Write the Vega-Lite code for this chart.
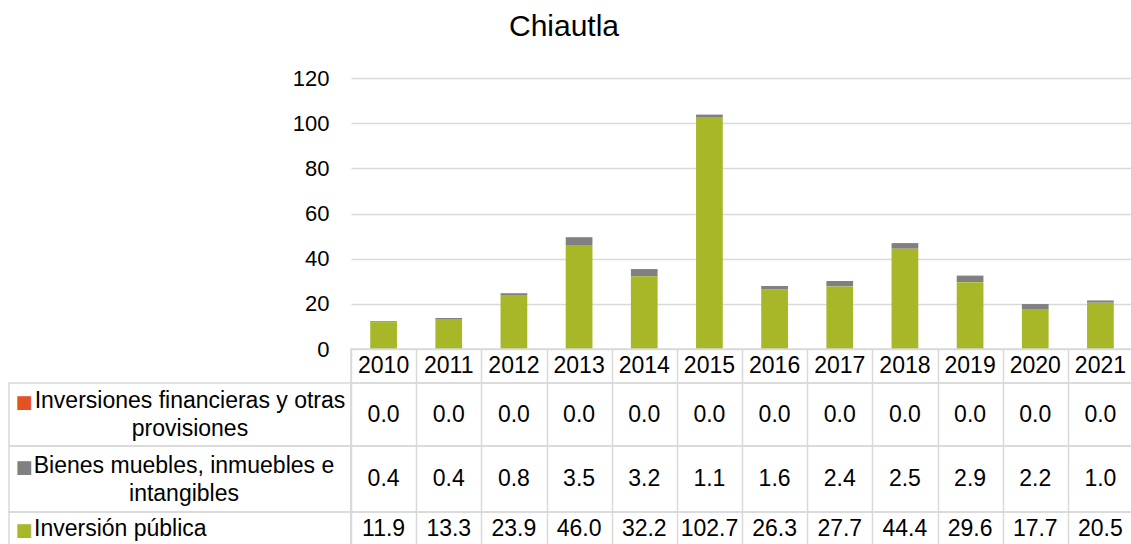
{
  "$schema": "https://vega.github.io/schema/vega-lite/v6.json",
  "padding": {"left": 8, "top": 12, "right": 0, "bottom": 0},
  "title": {"text": "Chiautla", "fontSize": 30, "font": "Liberation Sans", "fontWeight": "normal", "color": "#000000", "anchor": "middle", "offset": 25, "dx": -7},
  "config": {"view": {"stroke": null}, "font": "Liberation Sans", "text": {"font": "Liberation Sans", "fontSize": 23, "color": "#000000"}},
  "datasets": {
    "valores": [
      {"anio": "2010", "serie": "Inversiones financieras y otras provisiones", "valor": 0.0},
      {"anio": "2011", "serie": "Inversiones financieras y otras provisiones", "valor": 0.0},
      {"anio": "2012", "serie": "Inversiones financieras y otras provisiones", "valor": 0.0},
      {"anio": "2013", "serie": "Inversiones financieras y otras provisiones", "valor": 0.0},
      {"anio": "2014", "serie": "Inversiones financieras y otras provisiones", "valor": 0.0},
      {"anio": "2015", "serie": "Inversiones financieras y otras provisiones", "valor": 0.0},
      {"anio": "2016", "serie": "Inversiones financieras y otras provisiones", "valor": 0.0},
      {"anio": "2017", "serie": "Inversiones financieras y otras provisiones", "valor": 0.0},
      {"anio": "2018", "serie": "Inversiones financieras y otras provisiones", "valor": 0.0},
      {"anio": "2019", "serie": "Inversiones financieras y otras provisiones", "valor": 0.0},
      {"anio": "2020", "serie": "Inversiones financieras y otras provisiones", "valor": 0.0},
      {"anio": "2021", "serie": "Inversiones financieras y otras provisiones", "valor": 0.0},
      {"anio": "2010", "serie": "Bienes muebles, inmuebles e intangibles", "valor": 0.4},
      {"anio": "2011", "serie": "Bienes muebles, inmuebles e intangibles", "valor": 0.4},
      {"anio": "2012", "serie": "Bienes muebles, inmuebles e intangibles", "valor": 0.8},
      {"anio": "2013", "serie": "Bienes muebles, inmuebles e intangibles", "valor": 3.5},
      {"anio": "2014", "serie": "Bienes muebles, inmuebles e intangibles", "valor": 3.2},
      {"anio": "2015", "serie": "Bienes muebles, inmuebles e intangibles", "valor": 1.1},
      {"anio": "2016", "serie": "Bienes muebles, inmuebles e intangibles", "valor": 1.6},
      {"anio": "2017", "serie": "Bienes muebles, inmuebles e intangibles", "valor": 2.4},
      {"anio": "2018", "serie": "Bienes muebles, inmuebles e intangibles", "valor": 2.5},
      {"anio": "2019", "serie": "Bienes muebles, inmuebles e intangibles", "valor": 2.9},
      {"anio": "2020", "serie": "Bienes muebles, inmuebles e intangibles", "valor": 2.2},
      {"anio": "2021", "serie": "Bienes muebles, inmuebles e intangibles", "valor": 1.0},
      {"anio": "2010", "serie": "Inversión pública", "valor": 11.9},
      {"anio": "2011", "serie": "Inversión pública", "valor": 13.3},
      {"anio": "2012", "serie": "Inversión pública", "valor": 23.9},
      {"anio": "2013", "serie": "Inversión pública", "valor": 46.0},
      {"anio": "2014", "serie": "Inversión pública", "valor": 32.2},
      {"anio": "2015", "serie": "Inversión pública", "valor": 102.7},
      {"anio": "2016", "serie": "Inversión pública", "valor": 26.3},
      {"anio": "2017", "serie": "Inversión pública", "valor": 27.7},
      {"anio": "2018", "serie": "Inversión pública", "valor": 44.4},
      {"anio": "2019", "serie": "Inversión pública", "valor": 29.6},
      {"anio": "2020", "serie": "Inversión pública", "valor": 17.7},
      {"anio": "2021", "serie": "Inversión pública", "valor": 20.5}
    ],
    "leyenda": [
      {"serie": "Inversiones financieras y otras provisiones", "etiqueta": "Inversiones financieras y otras|provisiones"},
      {"serie": "Bienes muebles, inmuebles e intangibles", "etiqueta": "Bienes muebles, inmuebles e|intangibles"},
      {"serie": "Inversión pública", "etiqueta": "Inversión pública"}
    ]
  },
  "columns": 2,
  "align": "each",
  "bounds": "flush",
  "spacing": 0,
  "concat": [
    {
      "width": 342, "height": 271,
      "data": {"values": [{}]},
      "mark": {"type": "text", "text": ""},
      "encoding": {}
    },
    {
      "width": 782, "height": 271,
      "data": {"name": "valores"},
      "mark": {"type": "bar", "width": {"band": 0.41}},
      "encoding": {
        "x": {"field": "anio", "type": "ordinal", "scale": {"padding": 0}, "axis": null},
        "y": {"field": "valor", "type": "quantitative", "stack": "zero", "scale": {"domain": [0, 120], "nice": false},
              "axis": {"values": [0, 20, 40, 60, 80, 100, 120], "grid": true, "gridColor": "#d9d9d9", "gridWidth": 1.5, "domain": false, "ticks": false, "tickSize": 0, "labelPadding": 22, "labelFontSize": 22, "labelFont": "Liberation Sans", "labelColor": "#000000", "title": null}},
        "color": {"field": "serie", "type": "nominal",
                  "scale": {"domain": ["Inversiones financieras y otras provisiones", "Bienes muebles, inmuebles e intangibles", "Inversión pública"], "range": ["#e2531f", "#808080", "#a7b728"]},
                  "legend": null},
        "order": {"field": "serie", "sort": "descending"}
      }
    },
    {
      "width": 342, "height": 34,
      "data": {"values": [{}]},
      "mark": {"type": "text", "text": ""},
      "encoding": {}
    },
    {
      "width": 782, "height": 34,
      "data": {"name": "valores"},
      "transform": [{"filter": "datum.serie === 'Inversión pública'"}],
      "view": {"stroke": "#d9d9d9", "strokeWidth": 1.5},
      "mark": {"type": "text", "fontSize": 23, "font": "Liberation Sans", "color": "#000000"},
      "encoding": {
        "x": {"field": "anio", "type": "ordinal", "scale": {"padding": 0},
              "axis": {"orient": "top", "grid": true, "gridColor": "#d9d9d9", "gridWidth": 1.5, "tickBand": "extent", "labels": false, "ticks": false, "domain": false, "title": null}},
        "text": {"field": "anio"}
      }
    },
    {
      "width": 342, "height": 63,
      "data": {"name": "leyenda"},
      "transform": [{"filter": "datum.serie === 'Inversiones financieras y otras provisiones'"}],
      "view": {"stroke": "#d9d9d9", "strokeWidth": 1.5},
      "layer": [
        {"mark": {"type": "text", "fontSize": 23, "lineBreak": "|", "lineHeight": 28, "dx": 10, "dy": -14, "color": "#000000"}, "encoding": {"text": {"field": "etiqueta"}}},
        {"mark": {"type": "text", "text": "■", "font": "DejaVu Sans", "fontSize": 18, "dx": -156, "dy": -11.5},
         "encoding": {"color": {"field": "serie", "type": "nominal", "scale": {"domain": ["Inversiones financieras y otras provisiones", "Bienes muebles, inmuebles e intangibles", "Inversión pública"], "range": ["#e2531f", "#808080", "#a7b728"]}, "legend": null}}}
      ]
    },
    {
      "width": 782, "height": 63,
      "data": {"name": "valores"},
      "transform": [{"filter": "datum.serie === 'Inversiones financieras y otras provisiones'"}],
      "view": {"stroke": "#d9d9d9", "strokeWidth": 1.5},
      "mark": {"type": "text", "fontSize": 23, "font": "Liberation Sans", "color": "#000000"},
      "encoding": {
        "x": {"field": "anio", "type": "ordinal", "scale": {"padding": 0},
              "axis": {"orient": "top", "grid": true, "gridColor": "#d9d9d9", "gridWidth": 1.5, "tickBand": "extent", "labels": false, "ticks": false, "domain": false, "title": null}},
        "text": {"field": "valor", "type": "quantitative", "format": ".1f"}
      }
    },
    {
      "width": 342, "height": 66,
      "data": {"name": "leyenda"},
      "transform": [{"filter": "datum.serie === 'Bienes muebles, inmuebles e intangibles'"}],
      "view": {"stroke": "#d9d9d9", "strokeWidth": 1.5},
      "layer": [
        {"mark": {"type": "text", "fontSize": 23, "lineBreak": "|", "lineHeight": 28, "dx": 4, "dy": -13, "color": "#000000"}, "encoding": {"text": {"field": "etiqueta"}}},
        {"mark": {"type": "text", "text": "■", "font": "DejaVu Sans", "fontSize": 18, "dx": -156, "dy": -11.5},
         "encoding": {"color": {"field": "serie", "type": "nominal", "scale": {"domain": ["Inversiones financieras y otras provisiones", "Bienes muebles, inmuebles e intangibles", "Inversión pública"], "range": ["#e2531f", "#808080", "#a7b728"]}, "legend": null}}}
      ]
    },
    {
      "width": 782, "height": 66,
      "data": {"name": "valores"},
      "transform": [{"filter": "datum.serie === 'Bienes muebles, inmuebles e intangibles'"}],
      "view": {"stroke": "#d9d9d9", "strokeWidth": 1.5},
      "mark": {"type": "text", "fontSize": 23, "font": "Liberation Sans", "color": "#000000"},
      "encoding": {
        "x": {"field": "anio", "type": "ordinal", "scale": {"padding": 0},
              "axis": {"orient": "top", "grid": true, "gridColor": "#d9d9d9", "gridWidth": 1.5, "tickBand": "extent", "labels": false, "ticks": false, "domain": false, "title": null}},
        "text": {"field": "valor", "type": "quantitative", "format": ".1f"}
      }
    },
    {
      "width": 342, "height": 34,
      "data": {"name": "leyenda"},
      "transform": [{"filter": "datum.serie === 'Inversión pública'"}],
      "view": {"stroke": "#d9d9d9", "strokeWidth": 1.5},
      "layer": [
        {"mark": {"type": "text", "fontSize": 23, "align": "left", "dx": -146, "color": "#000000"}, "encoding": {"text": {"field": "etiqueta"}}},
        {"mark": {"type": "text", "text": "■", "font": "DejaVu Sans", "fontSize": 18, "dx": -156, "dy": 1.5},
         "encoding": {"color": {"field": "serie", "type": "nominal", "scale": {"domain": ["Inversiones financieras y otras provisiones", "Bienes muebles, inmuebles e intangibles", "Inversión pública"], "range": ["#e2531f", "#808080", "#a7b728"]}, "legend": null}}}
      ]
    },
    {
      "width": 782, "height": 34,
      "data": {"name": "valores"},
      "transform": [{"filter": "datum.serie === 'Inversión pública'"}],
      "view": {"stroke": "#d9d9d9", "strokeWidth": 1.5},
      "mark": {"type": "text", "fontSize": 23, "font": "Liberation Sans", "color": "#000000"},
      "encoding": {
        "x": {"field": "anio", "type": "ordinal", "scale": {"padding": 0},
              "axis": {"orient": "top", "grid": true, "gridColor": "#d9d9d9", "gridWidth": 1.5, "tickBand": "extent", "labels": false, "ticks": false, "domain": false, "title": null}},
        "text": {"field": "valor", "type": "quantitative", "format": ".1f"}
      }
    }
  ]
}
